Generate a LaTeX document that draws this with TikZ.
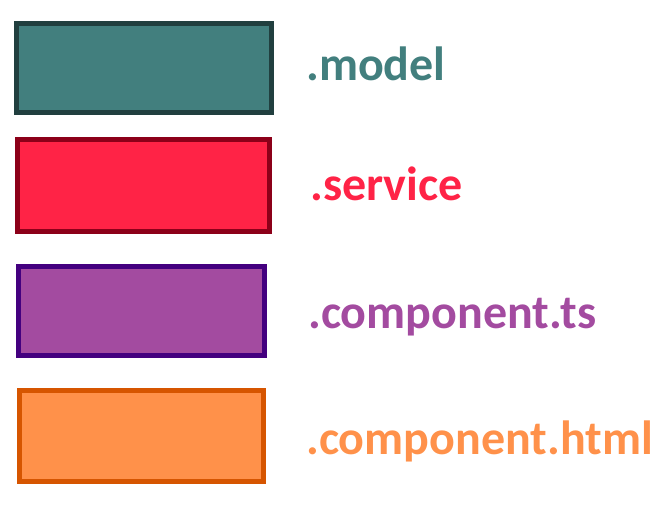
\documentclass[tikz,border=0pt]{standalone}
\usepackage{fontspec}
\setmainfont{Carlito}

\definecolor{modelfill}{HTML}{427F7E}
\definecolor{modelline}{HTML}{213F3F}
\definecolor{servicefill}{HTML}{FF2346}
\definecolor{serviceline}{HTML}{8C0019}
\definecolor{tsfill}{HTML}{A34BA0}
\definecolor{tsline}{HTML}{44007F}
\definecolor{htmlfill}{HTML}{FF914A}
\definecolor{htmlline}{HTML}{D65500}

\begin{document}
\begin{tikzpicture}[x=1pt,y=-1pt,
		box/.style={draw,line width=5pt,inner sep=0pt},
		lbl/.style={anchor=base west,inner sep=0pt,font=\fontsize{48}{48}\selectfont\bfseries}]
			\useasboundingbox (0,0) rectangle (667,504);
			\node[box,fill=modelfill,draw=modelline,minimum width=255pt,minimum height=89pt] (model) at (144,68) {};
			\node[lbl,text=modelfill] (modeltxt) at (306,80) {.model};
			\node[box,fill=servicefill,draw=serviceline,minimum width=252pt,minimum height=92pt] (service) at (143.5,185.5) {};
			\node[lbl,text=servicefill] (servicetxt) at (310,200) {.service};
			\node[box,fill=tsfill,draw=tsline,minimum width=246pt,minimum height=89pt] (ts) at (141.5,311) {};
			\node[lbl,text=tsfill] (tstxt) at (308,328) {.component.ts};
			\node[box,fill=htmlfill,draw=htmlline,minimum width=244pt,minimum height=91pt] (html) at (141.5,436) {};
			\node[lbl,text=htmlfill] (htmltxt) at (306,454) {.component.html};
		\end{tikzpicture}
\end{document}
